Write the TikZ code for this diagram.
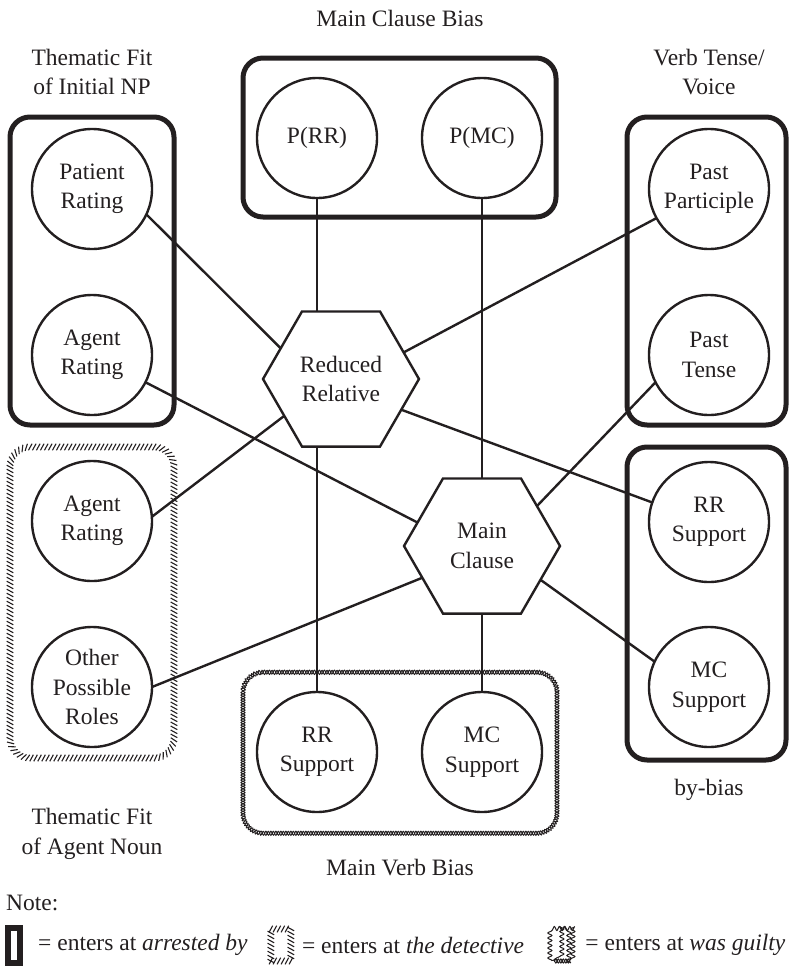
\documentclass[tikz,border=0pt]{standalone}
\usepackage{fontspec}
\setmainfont{Liberation Serif}
\usetikzlibrary{positioning,shapes.geometric,decorations.pathmorphing,decorations.markings}

\definecolor{ink}{RGB}{35,31,32}

\begin{document}
\begin{tikzpicture}[x=1pt, y=-1pt,
    every node/.style={font=\fontsize{23.5}{29.5}\selectfont, text=ink, align=center},
    roundnode/.style={circle, draw=ink, line width=2.4pt, minimum size=120pt, inner sep=0pt, outer sep=0pt},
    hexnode/.style={regular polygon, regular polygon sides=6, draw=ink, line width=2.4pt,
        minimum size=156pt, inner sep=0pt, outer sep=0pt},
    link/.style={draw=ink, line width=2.4pt},
    groupbox/.style={draw=ink, line width=5pt},
    hatchbox/.style={decoration={markings, mark=between positions 0 and 1 step 4pt with
        {\draw[ink, line width=1.1pt, sharp corners] (-1.8pt,-3.3pt) -- (1.8pt,3.3pt);}}, postaction={decorate}},
    wavybox/.style={
        postaction={draw=ink, line width=1pt, sharp corners, decorate,
            decoration={snake, amplitude=2pt, segment length=5pt}},
        postaction={draw=ink, line width=1pt, sharp corners, decorate,
            decoration={snake, amplitude=2pt, segment length=5pt, mirror}}}]

    % Fix the page to the reference size
    \useasboundingbox (0,0) rectangle (789,967);

    % Define corner radius of the group boxes
    \def\corner{20pt}

    % Group boxes
    \draw[groupbox, rounded corners=\corner] (10,117) rectangle (174,425);
    \draw[groupbox, rounded corners=\corner] (243,58) rectangle (556,217);
    \draw[groupbox, rounded corners=\corner] (627,117) rectangle (786,425);
    \draw[groupbox, rounded corners=\corner] (627,447) rectangle (786,760);
    \path[hatchbox, rounded corners=\corner] (10,447) rectangle (174,758);
    \path[wavybox, rounded corners=\corner] (243,671) rectangle (557,832);

    % Constraint nodes
    \foreach \nodename/\xpos/\ypos/\nodetext in {
        patient/92/189/{Patient\\Rating},
        agentnp/92/355/{Agent\\Rating},
        agentnoun/92/521/{Agent\\Rating},
        roles/92/687/{Other\\Possible\\Roles},
        prr/317/138/{P(RR)},
        pmc/482/138/{P(MC)},
        partic/709/189/{Past\\Participle},
        tense/709/355/{Past\\Tense},
        rrby/709/522/{RR\\Support},
        mcby/709/687/{MC\\Support},
        rrverb/317/752/{RR\\Support},
        mcverb/482/752/{MC\\Support}}
    {
        \node[roundnode] (\nodename) at (\xpos,\ypos) {\nodetext};
    }

    % Interpretation nodes
    \node[hexnode] (rr) at (341,379) {Reduced\\Relative};
    \node[hexnode] (mc) at (482,546) {Main\\Clause};

    % Connections
    \draw[link] (patient.-25) -- (rr.153);
    \draw[link] (agentnp.-27) -- (mc.160);
    \draw[link] (agentnoun.4) -- (rr.213);
    \draw[link] (roles.0) -- (mc.208);
    \draw[link] (partic.209) -- (rr.23);
    \draw[link] (tense.207) -- (mc.36);
    \draw[link] (rr.-27) -- (rrby.161);
    \draw[link] (mc.-30) -- (mcby.155);
    \draw[link] (prr.south) -- (prr.south |- rr.north);
    \draw[link] (rr.south -| rrverb.north) -- (rrverb.north);
    \draw[link] (pmc) -- (mc);
    \draw[link] (mc) -- (mcverb);

    % Group labels
    \node (mcbias) at (400,18) {Main Clause Bias};
    \node (fitnp) at (92,72) {Thematic Fit\\of Initial NP};
    \node (voice) at (709,72) {Verb Tense/\\Voice};
    \node (fitnoun) at (92,834) {Thematic Fit\\of Agent Noun};
    \node (bybias) at (709,790) {by-bias};
    \node (mvbias) at (400,868) {Main Verb Bias};

    % Legend
    \node[anchor=west, inner sep=0pt] (note) at (6,903) {Note:};
    \node[draw=ink, line width=6pt, minimum width=12pt, minimum height=35pt, inner sep=0pt, outer sep=0pt]
        (keythick) at (14,945) {};
    \node[right=18pt of keythick, inner sep=0pt] (keytext1) {= enters at \textit{arrested by}};
    \node[hatchbox, minimum width=20pt, minimum height=32pt, inner sep=0pt, outer sep=0pt,
        right=23pt of keytext1] (keyhatch) {};
    \node[right=11pt of keyhatch, inner sep=0pt] (keytext2) {= enters at \textit{the detective}};
    \node[wavybox, minimum width=16pt, minimum height=32pt, inner sep=0pt, outer sep=0pt,
        right=30pt of keytext2] (keywavy) {};
    \node[right=15pt of keywavy, inner sep=0pt] (keytext3) {= enters at \textit{was guilty}};
\end{tikzpicture}
\end{document}
